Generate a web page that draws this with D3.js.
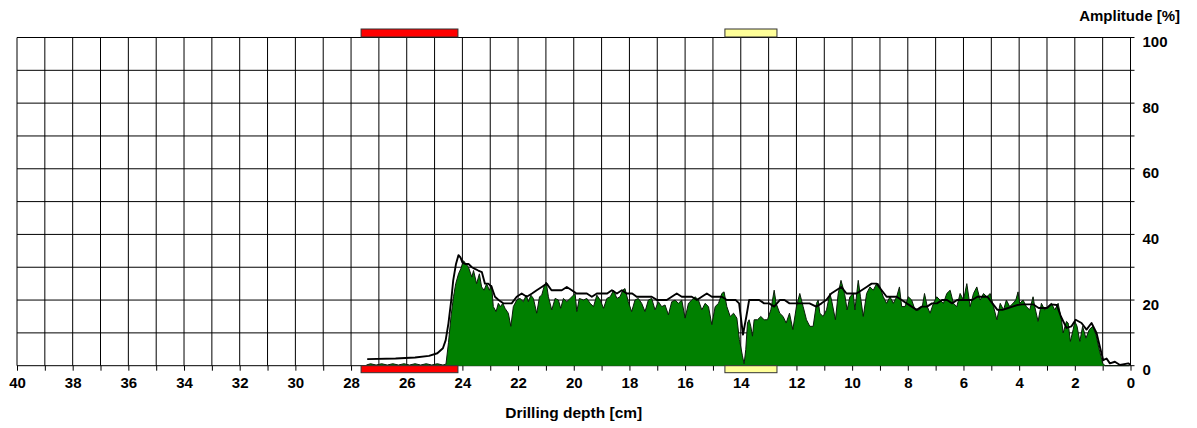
<!DOCTYPE html>
<html>
<head>
<meta charset="utf-8">
<script src="https://cdn.jsdelivr.net/npm/d3@7"></script>
<style>
  html, body { margin: 0; padding: 0; background: #fff; }
  svg { display: block; }
  text { font-family: "Liberation Sans", Arial, sans-serif; font-weight: bold; fill: #000; }
</style>
</head>
<body>
<svg id="chart" width="1197" height="428"></svg>
<script>
// ---- data ----
const xTickLabels = [40, 38, 36, 34, 32, 30, 28, 26, 24, 22, 20, 18, 16, 14, 12, 10, 8, 6, 4, 2, 0];
const yTickLabels = [0, 20, 40, 60, 80, 100];
const xAxisTitle = "Drilling depth [cm]";
const yAxisTitle = "Amplitude [%]";

// green amplitude profile (depth cm, amplitude %)
const greenDepth = [27.45, 27.3, 27.1, 26.9, 26.7, 26.5, 26.3, 26.1, 25.9, 25.7, 25.5, 25.3, 25.1, 24.9, 24.7, 24.62,
  24.59, 24.50, 24.41, 24.32, 24.24, 24.14, 24.06, 23.96, 23.87, 23.78, 23.66, 23.60, 23.49, 23.39, 23.31, 23.22, 23.13, 23.03,
  22.95, 22.89, 22.79, 22.71, 22.63, 22.55, 22.47, 22.35, 22.26, 22.17, 22.05, 21.93, 21.81, 21.71, 21.63, 21.54,
  21.45, 21.33, 21.23, 21.15, 21.07, 20.99, 20.91, 20.79, 20.67, 20.55, 20.47, 20.37, 20.25, 20.13, 20.01, 19.95,
  19.89, 19.80, 19.65, 19.53, 19.41, 19.29, 19.17, 19.05, 18.93, 18.81, 18.69, 18.57, 18.45, 18.34, 18.24, 18.16,
  18.04, 17.92, 17.80, 17.68, 17.56, 17.44, 17.32, 17.20, 17.08, 16.96, 16.84, 16.72, 16.60, 16.48, 16.36, 16.24,
  16.12, 16.00, 15.88, 15.76, 15.64, 15.52, 15.40, 15.28, 15.16, 15.04, 14.92, 14.80, 14.68, 14.60, 14.50, 14.38,
  14.26, 14.14, 14.05, 13.94, 13.88, 13.82, 13.76, 13.70, 13.64, 13.58, 13.52, 13.40, 13.28, 13.16, 13.04, 12.92,
  12.80, 12.73, 12.60, 12.48, 12.37, 12.25, 12.13, 12.00, 11.88, 11.76, 11.64, 11.52, 11.40, 11.28, 11.22, 11.16,
  11.04, 10.92, 10.80, 10.74, 10.60, 10.50, 10.40, 10.27, 10.18, 10.08, 9.96, 9.90, 9.78, 9.70, 9.60, 9.48,
  9.36, 9.24, 9.12, 9.06, 9.00, 8.88, 8.76, 8.64, 8.52, 8.40, 8.30, 8.22, 8.10, 7.98, 7.86, 7.74,
  7.60, 7.48, 7.40, 7.30, 7.20, 7.08, 6.96, 6.84, 6.72, 6.60, 6.48, 6.36, 6.24, 6.12, 6.00, 5.88,
  5.76, 5.64, 5.52, 5.40, 5.28, 5.16, 5.04, 4.92, 4.80, 4.68, 4.56, 4.46, 4.34, 4.22, 4.12, 4.04,
  3.98, 3.86, 3.74, 3.62, 3.50, 3.44, 3.32, 3.20, 3.08, 2.96, 2.84, 2.72, 2.60, 2.48, 2.42, 2.30,
  2.24, 2.16, 2.06, 2.00, 1.92, 1.82, 1.72, 1.60, 1.48, 1.36, 1.24, 1.12, 1.00, 0.91, 0.80, 0.60, 0.40, 0.20, 0.05];
const greenValue = [0.2, 0.6, 0.2, 0.6, 0.2, 0.6, 0.2, 0.6, 0.2, 0.6, 0.2, 0.6, 0.2, 0.6, 0.2, 0.4,
  0.5, 7, 15, 21, 25, 28, 29.5, 32, 31, 30, 27, 29, 25, 28, 24, 23, 25, 23,
  24.5, 18, 16.5, 19, 18, 19, 17.5, 16, 12, 18, 20, 20.5, 19.5, 21.5, 19.5, 21.5,
  20.5, 16, 21, 21.5, 24, 25.5, 21, 17, 20.5, 20, 17.5, 20.5, 19.5, 20.5, 21.5, 22,
  16.5, 20.5, 20, 20.5, 19, 18, 21.5, 20, 17.5, 20.5, 21, 23, 20.5, 21, 23, 23.5,
  19.5, 16.5, 20, 20.5, 19, 16.5, 20, 20.5, 17, 19.5, 18, 18.5, 15.5, 19.5, 20, 19,
  20, 14.5, 19, 20, 21, 20, 17, 19, 18, 12.5, 18, 19, 22, 22.5, 18, 15,
  16, 14.5, 8, 3, 0.6, 5, 13, 14, 12, 9, 14, 14, 15, 14, 14, 17,
  23, 19, 16, 15, 13, 16, 11, 18, 22, 18, 14, 12, 12, 19, 20, 16,
  15, 17, 22, 20, 14, 22, 26, 22, 17, 21, 22, 17, 26, 21, 15, 22,
  24, 23, 25, 25, 24, 21, 19, 21, 19, 21, 24, 18, 18, 21, 20, 17,
  17, 18, 22, 18, 16, 19, 21, 20, 19, 22, 23, 19, 18, 22, 20, 25,
  18, 22, 24, 20, 22, 21, 22, 18, 14, 19, 17, 20, 18, 19, 20, 22.5,
  19, 20, 18, 17, 21, 18, 13.5, 19, 17, 18, 19, 17, 19, 14, 10, 13.5,
  13, 7.4, 11, 13.5, 12, 7.4, 12, 8.4, 11, 12, 9.4, 4.8, 0.7, 0, 0, 0, 0, 0, 0];

// black trend line (depth cm, amplitude %)
const lineDepth = [27.42, 26.40, 25.70, 25.20, 24.90, 24.70, 24.60, 24.50, 24.40, 24.33, 24.23, 24.14, 24.07, 24.00,
  23.90, 23.78, 23.66, 23.55, 23.43, 23.30, 23.19, 23.07, 22.95, 22.83, 22.70, 22.53, 22.35, 22.23, 22.05, 21.87,
  21.69, 21.50, 21.33, 21.15, 20.97, 20.80, 20.60, 20.43, 20.25, 20.07, 19.90, 19.70, 19.53, 19.35, 19.17, 18.99,
  18.80, 18.63, 18.45, 18.27, 18.10, 17.90, 17.74, 17.56, 17.38, 17.20, 17.00, 16.84, 16.66, 16.48, 16.30, 16.12,
  15.94, 15.76, 15.58, 15.40, 15.22, 15.04, 14.86, 14.68, 14.50, 14.32, 14.18, 14.06, 13.92, 13.80, 13.70, 13.52,
  13.34, 13.16, 12.98, 12.80, 12.60, 12.43, 12.25, 12.00, 11.77, 11.53, 11.29, 11.10, 10.93, 10.75, 10.57, 10.39,
  10.20, 10.00, 9.84, 9.66, 9.48, 9.30, 9.12, 8.94, 8.76, 8.58, 8.40, 8.22, 8.04, 7.86, 7.68, 7.50,
  7.31, 7.13, 6.95, 6.77, 6.59, 6.41, 6.23, 6.05, 5.87, 5.69, 5.50, 5.33, 5.14, 4.96, 4.78, 4.60,
  4.42, 4.24, 4.06, 3.90, 3.50, 3.30, 3.00, 2.85, 2.65, 2.50, 2.30, 2.12, 1.97, 1.76, 1.58, 1.40,
  1.22, 1.10, 0.98, 0.86, 0.74, 0.56, 0.38, 0.08, 0.00];
const lineValue = [2.0, 2.2, 2.5, 3.0, 3.8, 5.3, 7.8, 13, 20, 26, 31, 33.7, 33, 31.5,
  31, 31, 30, 29.5, 29, 28.5, 25, 25, 24, 21, 20, 19, 19, 19, 21, 22,
  21, 22, 23, 24, 25, 23, 23, 23, 24, 23, 22, 22, 22, 21, 22, 22,
  22, 23, 22, 23, 22, 22, 21, 21, 21, 21, 20, 20, 20, 21, 22, 21,
  21, 21, 20, 21, 22, 21, 21, 21, 20, 20, 20, 19, 9.5, 15, 20, 20,
  20, 19, 19, 18, 20, 20, 19, 19, 19, 19, 18, 19, 20, 22, 23, 24,
  22, 22, 22, 23, 24, 25, 25, 23, 21, 21, 21, 20, 19, 18, 17, 18,
  18, 19, 19, 20, 20, 19, 20, 20, 20, 20, 21, 21, 21, 19, 17, 17,
  17.5, 18, 18.5, 18.7, 18.7, 17.6, 17.6, 18.7, 18.5, 15, 11.5, 12, 14, 13, 11, 13,
  10, 5.8, 1.7, 2.2, 0.7, 1.2, 0.2, 0.7, 0.3];

// range markers
const markerStart = [27.64, 14.57];
const markerEnd = [24.16, 12.70];
const markerColor = ["#ff0000", "#ffff99"];

// ---- layout ----
const svg = d3.select("#chart");
const plotLeft = 17, plotRight = 1130.5, plotTop = 37.5, plotBottom = 365.7;

const x = d3.scaleLinear().domain([40, 0]).range([plotLeft, plotRight]);
const y = d3.scaleLinear().domain([0, 100]).range([plotBottom, plotTop]);

// grid
const grid = svg.append("g").attr("stroke", "#000").attr("stroke-width", 1);
grid.selectAll("line.v").data(d3.range(0, 41)).join("line").attr("class", "v")
  .attr("x1", d => x(d)).attr("x2", d => x(d))
  .attr("y1", plotTop).attr("y2", plotBottom);
grid.selectAll("line.h").data(d3.range(0, 101, 10)).join("line").attr("class", "h")
  .attr("x1", plotLeft).attr("x2", plotRight + 4)
  .attr("y1", d => y(d)).attr("y2", d => y(d));

// x axis ticks (below)
const xAxis = d3.axisBottom(x)
  .tickValues(d3.range(0, 41))
  .tickSize(5)
  .tickFormat(d => xTickLabels.includes(d) ? d : "");
const gx = svg.append("g").attr("transform", `translate(0,${plotBottom})`).call(xAxis);
gx.select(".domain").remove();
gx.selectAll(".tick line").attr("stroke", "#000");
gx.selectAll(".tick text")
  .attr("y", 12).attr("dy", "0.71em")
  .style("font-family", '"Liberation Sans", Arial, sans-serif')
  .style("font-weight", "bold").style("font-size", "15px").attr("fill", "#000");

// y axis labels on right
const yAxis = d3.axisRight(y).tickValues(yTickLabels).tickSize(0).tickPadding(12);
const gy = svg.append("g").attr("transform", `translate(${plotRight},0)`).call(yAxis);
gy.select(".domain").remove();
gy.selectAll(".tick text")
  .attr("dy", "0.6em")
  .style("font-family", '"Liberation Sans", Arial, sans-serif')
  .style("font-weight", "bold").style("font-size", "15px").attr("fill", "#000");

// green area
const greenData = greenDepth.map((d, i) => [d, greenValue[i]]);
const area = d3.area().x(d => x(d[0])).y0(y(0)).y1(d => y(d[1]));
svg.append("path").datum(greenData).attr("d", area).attr("fill", "#008000");
const gline = d3.line().x(d => x(d[0])).y(d => y(d[1]));
svg.append("path").datum(greenData).attr("d", gline)
  .attr("fill", "none").attr("stroke", "#0a1a0a").attr("stroke-width", 1);

// black trend line
const lineData = lineDepth.map((d, i) => [d, lineValue[i]]);
svg.append("path").datum(lineData).attr("d", gline)
  .attr("fill", "none").attr("stroke", "#000").attr("stroke-width", 1.9)
  .attr("stroke-linejoin", "round");

// markers (top and bottom)
const markers = markerStart.map((s, i) => ({ s, e: markerEnd[i], c: markerColor[i] }));
[[plotTop - 8.5, 8], [plotBottom, 7]].forEach(([yy, h]) => {
  svg.append("g").selectAll("rect").data(markers).join("rect")
    .attr("x", d => x(d.s)).attr("width", d => x(d.e) - x(d.s))
    .attr("y", yy).attr("height", h)
    .attr("fill", d => d.c).attr("stroke", "#333").attr("stroke-width", 1);
});

// titles
svg.append("text").attr("x", 1180).attr("y", 21).attr("text-anchor", "end")
  .style("font-size", "15px").text(yAxisTitle);
svg.append("text").attr("x", (plotLeft + plotRight) / 2).attr("y", 418).attr("text-anchor", "middle")
  .style("font-size", "15.5px").text(xAxisTitle);
</script>
</body>
</html>
